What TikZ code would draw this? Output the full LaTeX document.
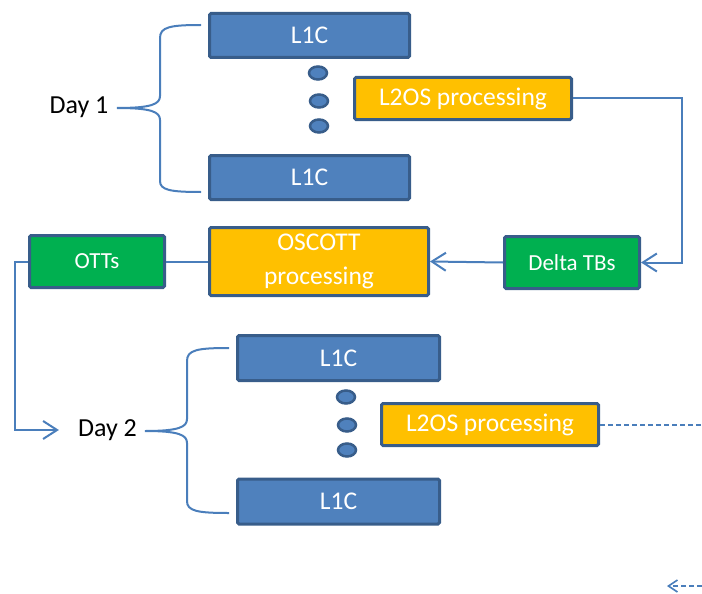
\documentclass[tikz,border=0pt]{standalone}
\usepackage{fontspec}
\setmainfont{Carlito}
\usetikzlibrary{arrows.meta,calc,shapes.geometric}
\definecolor{boxblue}{HTML}{4F81BD}
\definecolor{edgeblue}{HTML}{385D8A}
\definecolor{boxorange}{HTML}{FFC000}
\definecolor{boxgreen}{HTML}{00B050}
\definecolor{linkblue}{HTML}{4A7EBB}
\tikzset{
  base/.style={draw=edgeblue, line width=3pt, rounded corners=1.5pt, text=white,
    inner sep=0pt, align=center, font=\fontsize{25.5}{34}\selectfont},
  l1cbox/.style={base, fill=boxblue, minimum width=200pt, minimum height=44pt},
  procbox/.style={base, fill=boxorange},
  prodbox/.style={base, fill=boxgreen, minimum width=135pt, minimum height=52pt,
    font=\fontsize{23}{28}\selectfont},
  daylabel/.style={inner sep=2pt, text=black, font=\fontsize{26}{30}\selectfont},
  dot/.style={ellipse, draw=edgeblue, fill=boxblue, line width=2.5pt,
    minimum width=18pt, minimum height=13pt, inner sep=0pt},
  conn/.style={draw=linkblue, line width=2pt},
  barb/.style={-{Straight Barb[length=14pt,width=18pt,line width=2pt]}},
  smallbarb/.style={-{Straight Barb[length=9pt,width=12pt,line width=1.6pt]}},
  dashconn/.style={conn, dash pattern=on 5pt off 3pt},
  bracepath/.style={draw=linkblue, line width=2pt},
}
\begin{document}
\begin{tikzpicture}[x=1pt, y=-1pt]
  \useasboundingbox (0,0) rectangle (702,594);

  % ---- Day 1 ----
  \node[l1cbox] (l1a) at (309.5,35.5) {L1C};
  \node[l1cbox] (l1b) at (309.5,177.5) {L1C};
  \node[dot] (d1a) at (318,73) {};
  \node[dot] (d1b) at (319,101) {};
  \node[dot] (d1c) at (319,126) {};
  \node[procbox, minimum width=217pt, minimum height=42pt] (l2a) at (463,98.5) {L2OS processing};
  \node[daylabel] (day1) at (79,107) {Day 1};

  % brace grouping the day-1 products
  \path[bracepath] (201,25) .. controls (170,25) and (160,27) .. (160,38)
    -- (160,96) .. controls (160,104) and (152,108) .. (117,108)
    .. controls (152,108) and (160,112) .. (160,120)
    -- (160,181) .. controls (160,190) and (170,192) .. (201,192);

  % ---- merging step ----
  \node[prodbox] (delta) at (572,262.5) {Delta TBs};
  \node[procbox, minimum width=219pt, minimum height=68pt] (oscott) at (319,261.5) {OSCOTT\\processing};
  \node[prodbox] (otts) at (97,261.5) {OTTs};

  \coordinate (rtrail) at (682,0);
  \coordinate (ltrail) at (15,0);
  \draw[conn, barb] (l2a.east) -- (l2a.east -| rtrail) |- (delta.east);
  \draw[conn, barb] (delta.west) -- (oscott.east);
  \draw[conn] (oscott.west) -- (otts.east);

  % ---- Day 2 ----
  \node[l1cbox, minimum width=202pt, minimum height=45pt] (l1c) at (338.5,358) {L1C};
  \node[l1cbox, minimum width=202pt, minimum height=45pt] (l1d) at (338.5,501.5) {L1C};
  \node[dot] (d2a) at (346,397) {};
  \node[dot] (d2b) at (347,425) {};
  \node[dot] (d2c) at (347,450) {};
  \node[procbox, minimum width=217pt, minimum height=42pt] (l2b) at (490,424.5) {L2OS processing};
  \node[daylabel] (day2) at (107.5,430) {Day 2};

  \draw[conn, barb] (otts.west) -- (otts.west -| ltrail) |- ([xshift=-17pt]day2.west);

  % brace grouping the day-2 products
  \path[bracepath] (229,348) .. controls (197,348) and (187,350) .. (187,361)
    -- (187,419) .. controls (187,427) and (179,431) .. (145,431)
    .. controls (179,431) and (187,435) .. (187,443)
    -- (187,501) .. controls (187,511) and (197,513) .. (229,513);

  \coordinate (redge) at (702,0);
  \draw[dashconn] (l2b.east) -- (l2b.east -| redge);

  % incoming link from the following step
  \coordinate (inA) at (702,586);
  \coordinate (inB) at (667,586);
  \draw[dashconn, smallbarb] (inA) -- (inB);
\end{tikzpicture}
\end{document}
